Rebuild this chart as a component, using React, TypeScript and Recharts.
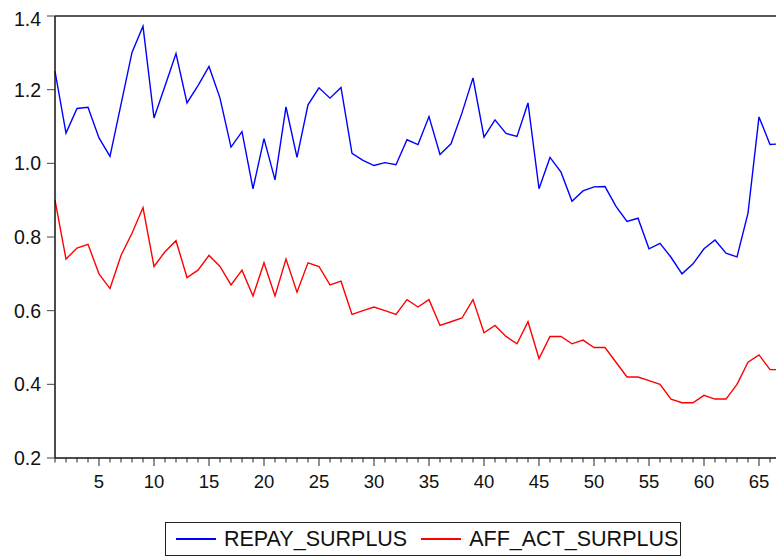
import { LineChart, Line, XAxis, YAxis, Legend, ReferenceLine } from "recharts";

const periods = [
  1, 2, 3, 4, 5, 6, 7, 8, 9, 10, 11, 12, 13, 14, 15, 16, 17, 18, 19, 20,
  21, 22, 23, 24, 25, 26, 27, 28, 29, 30, 31, 32, 33, 34, 35, 36, 37, 38, 39, 40,
  41, 42, 43, 44, 45, 46, 47, 48, 49, 50, 51, 52, 53, 54, 55, 56, 57, 58, 59, 60,
  61, 62, 63, 64, 65, 66, 67, 68,
];

const repaySurplus = [
  1.25, 1.082, 1.149, 1.152, 1.069, 1.019, 1.16, 1.301, 1.372, 1.123,
  1.21, 1.298, 1.164, 1.211, 1.263, 1.177, 1.044, 1.086, 0.931, 1.067,
  0.955, 1.153, 1.016, 1.159, 1.205, 1.177, 1.206, 1.027, 1.008, 0.994,
  1.002, 0.996, 1.064, 1.051, 1.127, 1.024, 1.053, 1.137, 1.232, 1.071,
  1.118, 1.081, 1.073, 1.164, 0.931, 1.016, 0.976, 0.897, 0.925, 0.936,
  0.937, 0.883, 0.842, 0.851, 0.768, 0.783, 0.745, 0.7, 0.727, 0.768,
  0.792, 0.756, 0.746, 0.865, 1.126, 1.051, 1.053, 0.99,
];

const affActSurplus = [
  0.9, 0.74, 0.77, 0.78, 0.7, 0.66, 0.75, 0.81, 0.88, 0.72,
  0.76, 0.79, 0.69, 0.71, 0.75, 0.72, 0.67, 0.71, 0.64, 0.73,
  0.64, 0.74, 0.65, 0.73, 0.72, 0.67, 0.68, 0.59, 0.6, 0.61,
  0.6, 0.59, 0.63, 0.61, 0.63, 0.56, 0.57, 0.58, 0.63, 0.54,
  0.56, 0.53, 0.51, 0.57, 0.47, 0.53, 0.53, 0.51, 0.52, 0.5,
  0.5, 0.46, 0.42, 0.42, 0.41, 0.4, 0.36, 0.35, 0.35, 0.37,
  0.36, 0.36, 0.4, 0.46, 0.48, 0.44, 0.44, 0.45,
];

const seriesNames = ["REPAY_SURPLUS", "AFF_ACT_SURPLUS"];
const seriesColors = ["#0000ff", "#ff0000"];

const yTicks = [0.2, 0.4, 0.6, 0.8, 1.0, 1.2, 1.4];
const xTicks = [
  1, 2, 3, 4, 5, 6, 7, 8, 9, 10, 11, 12, 13, 14, 15, 16, 17, 18, 19, 20,
  21, 22, 23, 24, 25, 26, 27, 28, 29, 30, 31, 32, 33, 34, 35, 36, 37, 38, 39, 40,
  41, 42, 43, 44, 45, 46, 47, 48, 49, 50, 51, 52, 53, 54, 55, 56, 57, 58, 59, 60,
  61, 62, 63, 64, 65, 66, 67, 68, 69,
];

const data = periods.map((p, i) => ({
  period: p,
  REPAY_SURPLUS: repaySurplus[i],
  AFF_ACT_SURPLUS: affActSurplus[i],
}));

const FONT = "'Liberation Sans', Arial, sans-serif";

// minor tick every period, long tick + label every 5
function PeriodTick(props: any) {
  const { x, y, payload } = props;
  const major = payload.value % 5 === 0;
  return (
    <g>
      <line x1={x} y1={y} x2={x} y2={y + (major ? 8 : 4.5)} stroke="#222" strokeWidth={1} />
      {major && (
        <text x={x} y={y + 30} textAnchor="middle" fontSize={18.5} fontFamily={FONT} fill="#111">
          {payload.value}
        </text>
      )}
    </g>
  );
}

function LegendBox() {
  return (
    <div
      style={{
        boxSizing: "border-box",
        height: 34,
        width: 516,
        border: "1px solid #222",
        display: "flex",
        alignItems: "center",
        paddingLeft: 10,
        fontFamily: FONT,
        fontSize: 21.5,
        color: "#111",
        background: "#fff",
        whiteSpace: "nowrap",
      }}
    >
      {seriesNames.map((name, i) => (
        <div key={name} style={{ display: "flex", alignItems: "center", marginRight: 14 }}>
          <div style={{ width: 40, height: 2, background: seriesColors[i], marginRight: 8 }} />
          <span>{name}</span>
        </div>
      ))}
    </div>
  );
}

export default function App() {
  return (
    <div style={{ width: 776, height: 548, overflow: "hidden", background: "#fff" }}>
      <LineChart
        width={806}
        height={548}
        data={data}
        margin={{ top: 8, right: 0, left: 0, bottom: 34 }}
      >
        <XAxis
          dataKey="period"
          type="number"
          domain={[1, 70]}
          ticks={xTicks}
          interval={0}
          tickSize={0}
          tickMargin={0}
          tickLine={false}
          tick={<PeriodTick />}
          height={30}
          axisLine={{ stroke: "#111", strokeWidth: 1.5 }}
        />
        <YAxis
          type="number"
          domain={[0.2, 1.4]}
          ticks={yTicks}
          width={47}
          tickSize={8}
          tickMargin={6}
          tickFormatter={(v: number) => v.toFixed(1)}
          tick={{ fill: "#111", fontSize: 19.5, fontFamily: FONT }}
          tickLine={{ stroke: "#444" }}
          axisLine={{ stroke: "#111", strokeWidth: 1.5 }}
        />
        <ReferenceLine y={1.4} stroke="#222" strokeWidth={1.7} />
        <Line
          dataKey={seriesNames[0]}
          stroke={seriesColors[0]}
          strokeWidth={1.4}
          dot={false}
          isAnimationActive={false}
        />
        <Line
          dataKey={seriesNames[1]}
          stroke={seriesColors[1]}
          strokeWidth={1.4}
          dot={false}
          isAnimationActive={false}
        />
        <Legend
          content={<LegendBox />}
          wrapperStyle={{ left: 157, top: 514, bottom: "auto", width: "auto" }}
        />
      </LineChart>
    </div>
  );
}
